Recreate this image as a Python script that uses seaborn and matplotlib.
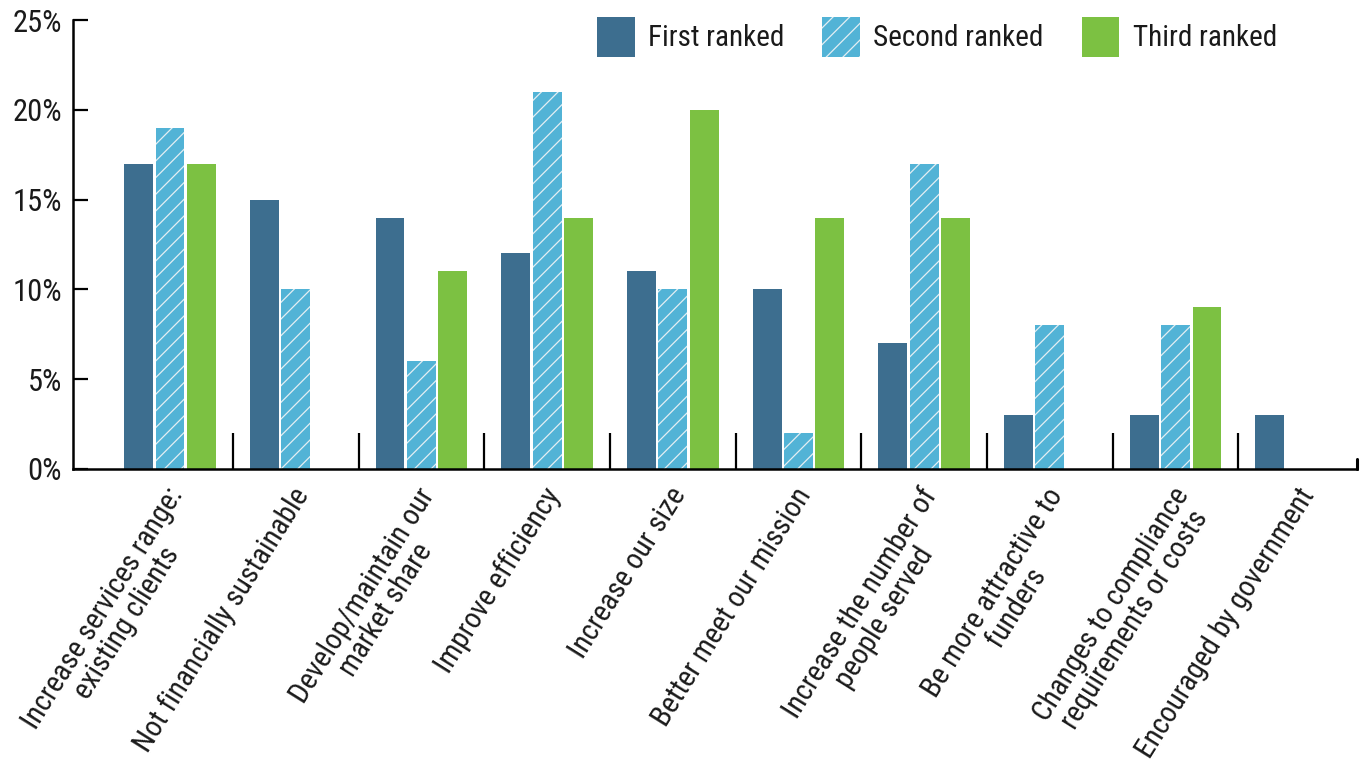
import matplotlib
matplotlib.use("Agg")
import matplotlib.pyplot as plt
import matplotlib.transforms as mtransforms
from matplotlib import font_manager
import numpy as np
import pandas as pd
import seaborn as sns

categories = [
    "Increase services range:\nexisting clients",
    "Not financially sustainable",
    "Develop/maintain our\nmarket share",
    "Improve efficiency",
    "Increase our size",
    "Better meet our mission",
    "Increase the number of\npeople served",
    "Be more attractive to\nfunders",
    "Changes to compliance\nrequirements or costs",
    "Encouraged by government",
]
ranks = ["First ranked", "Second ranked", "Third ranked"]
first_ranked = [17, 15, 14, 12, 11, 10, 7, 3, 3, 3]
second_ranked = [19, 10, 6, 21, 10, 2, 17, 8, 8, 0]
third_ranked = [17, 0, 11, 14, 20, 14, 14, 0, 9, 0]
y_ticks = [0, 5, 10, 15, 20, 25]
y_tick_labels = ["0%", "5%", "10%", "15%", "20%", "25%"]

colors = ["#3d6e8f", "#52b3d6", "#7cc142"]

df = pd.DataFrame({
    "Category": categories * 3,
    "Rank": np.repeat(ranks, len(categories)),
    "Value": first_ranked + second_ranked + third_ranked,
})

# pick a narrow font like the original's condensed sans
installed = {f.name for f in font_manager.fontManager.ttflist}
narrow = "DejaVu Sans"
for cand in ["Roboto Condensed", "Archivo Narrow", "Liberation Sans Narrow",
             "PT Sans Narrow", "Fira Sans Condensed", "IBM Plex Sans Condensed"]:
    if cand in installed:
        narrow = cand
        break

sns.set_theme(style="white")
plt.rcParams["font.family"] = [narrow, "DejaVu Sans"]
plt.rcParams["hatch.linewidth"] = 0.9

fig = plt.figure(figsize=(13.65, 7.63), dpi=100)
ax = fig.add_axes([73 / 1365, 1 - 469 / 763, (1357 - 73) / 1365, (469 - 20) / 763])

sns.barplot(data=df, x="Category", y="Value", hue="Rank", order=categories,
            hue_order=ranks, palette=colors, width=0.75, gap=0.08,
            saturation=1, legend=False, ax=ax)

# hatch the second-ranked bars
for bar in ax.containers[1]:
    bar.set_hatch("//")
    bar.set_edgecolor("#e4eef3")
    bar.set_linewidth(0)
for cont in (ax.containers[0], ax.containers[2]):
    for bar in cont:
        bar.set_linewidth(0)

xmin, xmax = -0.772, 9.443
ax.set_xlim(xmin, xmax)
ax.set_ylim(0, 25)
ax.set_xlabel("")
ax.set_ylabel("")

ax.set_yticks(y_ticks)
ax.set_yticklabels(y_tick_labels, fontsize=22, color="#1a1a1a")
ax.tick_params(axis="y", direction="in", length=11, width=1.6, color="black",
               pad=8, left=True)

ax.set_xticks(range(len(categories)))
ax.set_xticklabels(categories, fontsize=21, rotation=58, ha="right", va="top",
                   rotation_mode="anchor", multialignment="center",
                   color="#1a1a1a", linespacing=1.0)
ax.tick_params(axis="x", which="major", length=0, pad=10)
ax.set_xticks(np.arange(len(categories) - 1) + 0.5, minor=True)
ax.tick_params(axis="x", which="minor", direction="in", length=26, width=1.6,
               color="black", bottom=True)
shift = mtransforms.ScaledTranslation(-5 / 100, 0, fig.dpi_scale_trans)
for lab in ax.get_xticklabels():
    lab.set_transform(lab.get_transform() + shift)

ax.axvline(xmax, ymin=0, ymax=0.022, color="black", linewidth=2.2, clip_on=False)

sns.despine(ax=ax)
for side in ("left", "bottom"):
    ax.spines[side].set_color("black")
    ax.spines[side].set_linewidth(1.8)

ax.legend(handles=ax.containers, labels=ranks, loc="upper right",
          bbox_to_anchor=(0.958, 1.066), ncol=3, frameon=False, fontsize=21,
          handlelength=1.3, handleheight=1.73, handletextpad=0.45,
          columnspacing=1.3, labelcolor="#1a1a1a")

fig.savefig("out.png", dpi=100)
